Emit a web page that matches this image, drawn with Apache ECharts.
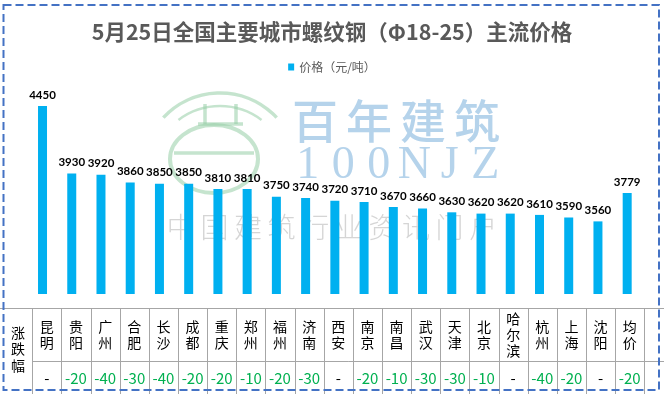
<!DOCTYPE html>
<html>
<head>
<meta charset="utf-8">
<script src="https://cdn.jsdelivr.net/npm/echarts@6/dist/echarts.min.js"></script>
<style>
html,body{margin:0;padding:0;background:#fff;}
#main{width:664px;height:394px;}
</style>
</head>
<body>
<div id="main"></div>
<script>
// ---- data ----
var categories = ['昆明','贵阳','广州','合肥','长沙','成都','重庆','郑州','福州','济南','西安','南京','南昌','武汉','天津','北京','哈尔滨','杭州','上海','沈阳','均价'];
var prices = [4450,3930,3920,3860,3850,3850,3810,3810,3750,3740,3720,3710,3670,3660,3630,3620,3620,3610,3590,3560,3779];
var changes = [null,-20,-40,-30,-40,-20,-20,-10,-20,-30,null,-20,-10,-30,-30,-10,null,-40,-20,null,-20];
var seriesName = '价格（元/吨）';
var titleText = '5月25日全国主要城市螺纹钢（Φ18-25）主流价格';
var tableHeader = '涨跌幅';

var chart = echarts.init(document.getElementById('main'), null, {renderer:'canvas'});
var CJK = '"Noto Sans CJK SC", sans-serif';
var lineColor = '#A6A6A6';

var tableData = categories.map(function(c, i){ return [i, 0, c, changes[i]]; });

var wm = 'rgba(150,205,165,0.55)';
var wmBlue = 'rgba(150,192,226,0.7)';
var wmGray = 'rgba(185,185,185,0.6)';

function spacedText(str, x0, pitch, y, font, fill) {
  return str.split('').map(function(ch, k){
    return {type: 'text', z: 0, silent: true, style: {text: ch, x: x0 + pitch * k + pitch / 2, y: y, fill: fill, font: font, align: 'center', verticalAlign: 'middle'}};
  });
}

var graphics = [
  // watermark logo
  {type: 'arc', z: 0, shape: {cx: 220, cy: 170.5, r: 77.5, startAngle: -137*Math.PI/180, endAngle: -43*Math.PI/180}, style: {stroke: wm, lineWidth: 3.5, fill: null}},
  {type: 'arc', z: 0, shape: {cx: 220, cy: 175, r: 69, startAngle: -127*Math.PI/180, endAngle: -53*Math.PI/180}, style: {stroke: wm, lineWidth: 2.5, fill: null}},
  {type: 'ellipse', z: 0, shape: {cx: 214, cy: 159, rx: 44, ry: 34}, style: {stroke: wm, lineWidth: 4, fill: null}},
  {type: 'line', z: 0, shape: {x1: 174, y1: 153, x2: 254, y2: 153}, style: {stroke: wm, lineWidth: 3.5}},
  {type: 'line', z: 0, shape: {x1: 205, y1: 104, x2: 205, y2: 124}, style: {stroke: wm, lineWidth: 3.5}},
  {type: 'line', z: 0, shape: {x1: 236, y1: 104, x2: 236, y2: 124}, style: {stroke: wm, lineWidth: 3.5}},
  {type: 'line', z: 0, shape: {x1: 198, y1: 124, x2: 243, y2: 124}, style: {stroke: wm, lineWidth: 3.5}}
]
.concat(spacedText('百年建筑', 288, 54, 121, '500 46px ' + CJK, wmBlue))
.concat(spacedText('100NJZ', 290, 35.5, 166, '46px "Liberation Serif", serif', wmBlue))
.concat(spacedText('中国建筑行业资讯门户', 164, 33.6, 227, '300 28px ' + CJK, wmGray))
.concat([
  // table lines
  {type: 'line', z: 5, shape: {x1: 0, y1: 308.5, x2: 664, y2: 308.5}, style: {stroke: lineColor, lineWidth: 1}},
  {type: 'line', z: 5, shape: {x1: 32.3, y1: 361.5, x2: 664, y2: 361.5}, style: {stroke: lineColor, lineWidth: 1}},
  {type: 'text', z: 6, style: {text: tableHeader.split('').join('\n'), x: 18, y: 349, fill: '#000', font: '14px ' + CJK, align: 'center', verticalAlign: 'middle', lineHeight: 16.5}},
  // border
  {type: 'rect', z: 10, shape: {x: 3.5, y: 5, width: 655.5, height: 385}, style: {fill: null, stroke: '#4472C4', lineWidth: 2, lineDash: [8, 4]}}
]);

var option = {
  backgroundColor: '#ffffff',
  animation: false,
  title: {
    text: titleText, left: 'center', top: 16,
    textStyle: {fontFamily: CJK, fontSize: 21.5, fontWeight: 'bold', color: '#595959'}
  },
  legend: {
    data: [seriesName], top: 56, left: 'center',
    itemWidth: 6, itemHeight: 7, itemGap: 4, icon: 'rect',
    textStyle: {fontFamily: CJK, fontSize: 12, color: '#595959'}
  },
  grid: [
    {left: 27.9, right: 22.2, top: 99.5, bottom: 100},
    {left: 32.3, right: 19.7, top: 308.3, height: 86}
  ],
  xAxis: [
    {type: 'category', data: categories, gridIndex: 0, show: false, boundaryGap: true},
    {type: 'category', data: categories, gridIndex: 1, show: false, boundaryGap: true}
  ],
  yAxis: [
    {type: 'value', gridIndex: 0, min: 3000, max: 4500, show: false, splitLine: {show: false}},
    {type: 'value', gridIndex: 1, min: 0, max: 1, show: false, splitLine: {show: false}}
  ],
  graphic: graphics,
  series: [
    {
      name: seriesName, type: 'bar', data: prices, xAxisIndex: 0, yAxisIndex: 0,
      barWidth: 9, itemStyle: {color: '#00B0F0'}, z: 3,
      label: {show: true, position: 'top', distance: 5, color: '#000', fontFamily: 'Lato, "Liberation Sans", sans-serif', fontWeight: 'bold', fontSize: 11.5}
    },
    {
      name: 'table', type: 'custom', xAxisIndex: 1, yAxisIndex: 1, data: tableData, z: 5,
      silent: true, clip: false,
      renderItem: function(params, api){
        var i = api.value(0);
        var c = api.coord([i, 0]);
        var w = api.size([1, 0])[0];
        var rect = params.coordSys;
        var top = rect.y;
        var x0 = c[0] - w/2;
        var name = categories[i];
        var ch = changes[i];
        var kids = [
          {type: 'line', shape: {x1: Math.round(x0)+0.5, y1: top, x2: Math.round(x0)+0.5, y2: 394}, style: {stroke: lineColor, lineWidth: 1}},
          {type: 'text', style: {text: name.split('').join('\n'), x: c[0], y: top + 26.5, fill: '#000', font: '14px ' + CJK, align: 'center', verticalAlign: 'middle', lineHeight: 16}},
          {type: 'text', style: {text: ch === null ? '-' : String(ch), x: c[0], y: top + 69.5, fill: ch === null ? '#000' : '#00B050', font: '15px ' + CJK, align: 'center', verticalAlign: 'middle'}}
        ];
        if (i === categories.length - 1) {
          var x1 = Math.round(x0 + w) + 0.5;
          kids.push({type: 'line', shape: {x1: x1, y1: top, x2: x1, y2: 394}, style: {stroke: lineColor, lineWidth: 1}});
        }
        return {type: 'group', children: kids};
      }
    }
  ]
};
chart.setOption(option);
</script>
</body>
</html>
